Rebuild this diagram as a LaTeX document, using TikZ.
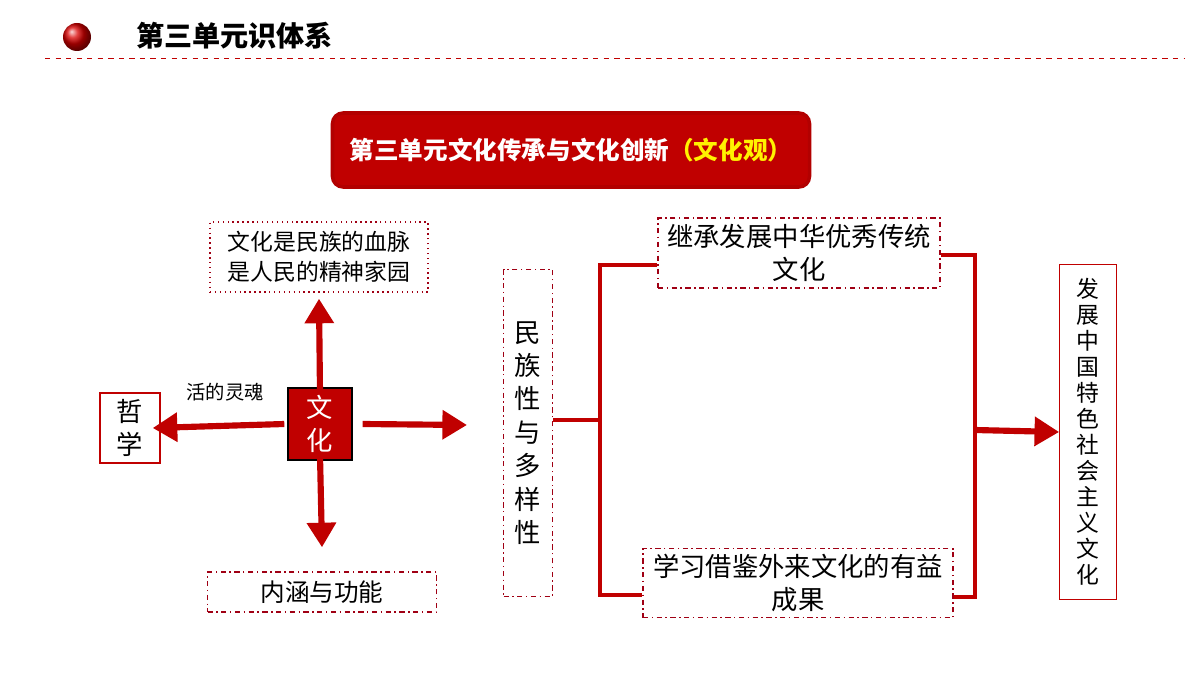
\documentclass[tikz,border=0pt]{standalone}
\usepackage{fontspec}
\setmainfont{Noto Sans CJK SC}
\usetikzlibrary{arrows.meta}
\definecolor{hred}{RGB}{192,0,0}
\definecolor{dred}{RGB}{160,0,20}
\tikzset{
  dbox/.style={draw=dred,thick,dash dot,align=center,inner sep=0pt},
  bigarrow/.style={draw=hred,line width=3.5pt,-{Triangle[length=14pt,width=16pt]}},
  bline/.style={draw=hred,line width=1.8pt},
}
\begin{document}
\begin{tikzpicture}[x=0.02cm,y=-0.02cm]
\useasboundingbox (0,0) rectangle (1200,675);
% header
\shade[ball color=red!85!black] (77,37) circle (14);
\node[anchor=west,font=\bfseries\fontsize{16}{18}\selectfont] (head) at (130,36) {第三单元识体系};
\draw[hred,dashed] (45,58) -- (1185,58);
% title
\node[fill=hred,draw=red!70!black,line width=2pt,rounded corners=6pt,minimum width=477*0.02cm,minimum height=74*0.02cm,
  font=\bfseries\fontsize{14}{16}\selectfont,text=white] (title) at (571,150)
  {第三单元文化传承与文化创新\textcolor{yellow}{（文化观）}};
% left part
\node[dbox,dotted,minimum width=218*0.02cm,minimum height=70*0.02cm,font=\fontsize{13}{17}\selectfont] (blood) at (319,257)
  {文化是民族的血脉\\是人民的精神家园};
\node[fill=hred,draw=black,thick,minimum width=64*0.02cm,minimum height=72*0.02cm,text=white,
  font=\fontsize{15}{19}\selectfont,align=center] (wh) at (320,424) {文\\化};
\node[draw=hred,thick,minimum width=60*0.02cm,minimum height=70*0.02cm,font=\fontsize{15}{19}\selectfont,align=center]
  (zx) at (130,428) {哲\\学};
\node[dbox,minimum width=229*0.02cm,minimum height=40*0.02cm,font=\fontsize{14}{16}\selectfont] (nh) at (322,592) {内涵与功能};
\node[font=\fontsize{11}{13}\selectfont] (soul) at (225,392) {活的灵魂};
\draw[bigarrow] ([yshift=-0.12cm]wh.north) -- ([yshift=-0.12cm]blood.south);
\draw[bigarrow] ([xshift=-0.06cm]wh.west) -- ([xshift=-0.16cm]zx.east);
\draw[bigarrow] ([yshift=0.1cm]wh.south) -- ([yshift=0.48cm]nh.north);
\coordinate (mid) at (467,425);
\draw[bigarrow] ([xshift=0.2cm]wh.east) -- (mid);
% middle
\node[dbox,minimum width=49*0.02cm,minimum height=327*0.02cm,font=\fontsize{15}{19}\selectfont] (dy) at (528,433)
  {民\\族\\性\\与\\多\\样\\性};
\node[dbox,minimum width=282*0.02cm,minimum height=70*0.02cm,font=\fontsize{15}{19}\selectfont] (jc) at (799,253)
  {继承发展中华优秀传统\\文化};
\node[dbox,minimum width=310*0.02cm,minimum height=69*0.02cm,font=\fontsize{15}{19}\selectfont] (xx) at (798,583)
  {学习借鉴外来文化的有益\\成果};
\coordinate (bl) at (600,420);
\draw[bline] (dy.east |- bl) -- (bl);
\draw[bline] (jc.west |- 0,265) -| (600,595) -- (xx.west |- 0,595);
\draw[bline] (jc.east |- 0,255) -| (975,597) -- (xx.east |- 0,597);
% right
\node[draw=hred,minimum width=57*0.02cm,minimum height=335*0.02cm,align=center,font=\fontsize{13}{14.8}\selectfont]
  (fz) at (1088,432) {发\\展\\中\\国\\特\\色\\社\\会\\主\\义\\文\\化};
\draw[bigarrow] (975,430) -- (fz.west);
\end{tikzpicture}
\end{document}
